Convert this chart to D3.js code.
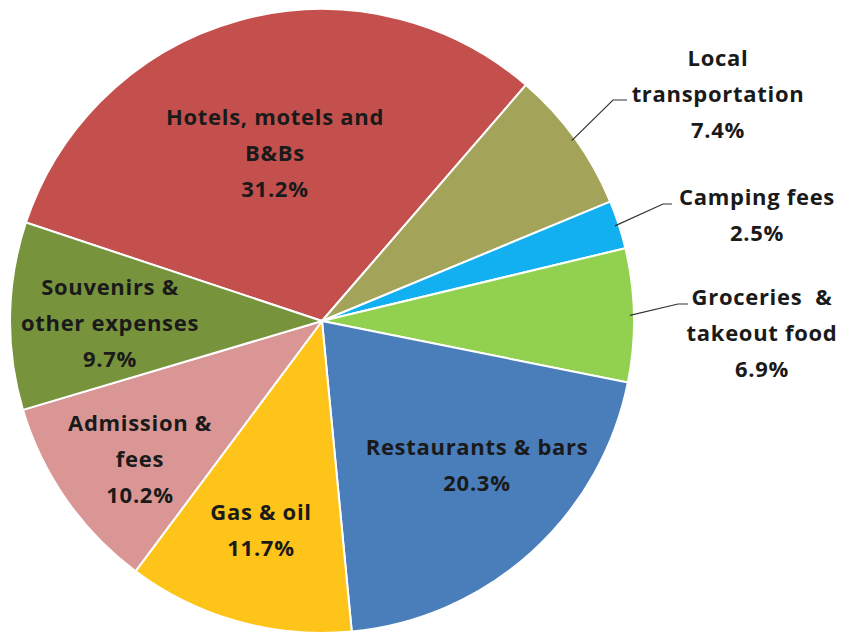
<!DOCTYPE html>
<html>
<head>
<meta charset="utf-8">
<script src="https://cdn.jsdelivr.net/npm/d3@7"></script>
<style>
  html, body { margin: 0; padding: 0; background: #ffffff; }
  svg text { font-family: "Open Sans", Lato, sans-serif; font-weight: bold; fill: #1a1a1a; }
</style>
</head>
<body>
<svg id="chart" width="848" height="635"></svg>
<script>
// Spending shares by category (percent), listed clockwise from the Hotels slice
const categories = [
  "Hotels, motels and B&Bs",
  "Local transportation",
  "Camping fees",
  "Groceries & takeout food",
  "Restaurants & bars",
  "Gas & oil",
  "Admission & fees",
  "Souvenirs & other expenses"
];
const values = [31.2, 7.4, 2.5, 6.9, 20.3, 11.7, 10.2, 9.7];
const colors = ["#C4504E", "#A3A45A", "#12B0F0", "#92D050", "#4A7EBB", "#FFC41A", "#D99694", "#77933C"];
// Label lines as they wrap on the chart
const labelLines = [
  ["Hotels, motels and", "B&Bs", "31.2%"],
  ["Local", "transportation", "7.4%"],
  ["Camping fees", "2.5%"],
  ["Groceries  &", "takeout food", "6.9%"],
  ["Restaurants & bars", "20.3%"],
  ["Gas & oil", "11.7%"],
  ["Admission &", "fees", "10.2%"],
  ["Souvenirs &", "other expenses", "9.7%"]
];
// Label anchor (centre of first line) and leader-line elbow for outside labels
const labelPos = [
  [275, 117], [718, 58], [757, 197], [762, 297],
  [477, 447], [261, 512], [140, 423], [110, 287]
];
const leaders = [null, [613, 100, 627], [663, 204, 672], [678, 304, 688], null, null, null, null];

const svg = d3.select("#chart");
const cx = 322, cy = 321, r = 312;
const startAngle = -71.6 * Math.PI / 180;

const pie = d3.pie().sort(null).value(d => d)
  .startAngle(startAngle).endAngle(startAngle + 2 * Math.PI);
const arcs = pie(values);
const arc = d3.arc().innerRadius(0).outerRadius(r);

const g = svg.append("g").attr("transform", `translate(${cx},${cy})`);
g.selectAll("path.slice").data(arcs).join("path")
  .attr("class", "slice")
  .attr("d", arc)
  .attr("fill", (d, i) => colors[i])
  .attr("stroke", "#ffffff")
  .attr("stroke-width", 2)
  .attr("stroke-linejoin", "round");

// Leader lines from slice edge to outside labels
arcs.forEach((a, i) => {
  const L = leaders[i];
  if (!L) return;
  const mid = (a.startAngle + a.endAngle) / 2;
  const ex = cx + Math.sin(mid) * (r - 4);
  const ey = cy - Math.cos(mid) * (r - 4);
  svg.append("polyline")
    .attr("points", `${ex},${ey} ${L[0]},${L[1]} ${L[2]},${L[1]}`)
    .attr("fill", "none")
    .attr("stroke", "#333333")
    .attr("stroke-width", 1.2);
});

const lineH = 36;
labelLines.forEach((lines, i) => {
  const t = svg.append("text")
    .attr("text-anchor", "middle")
    .attr("font-size", 22)
    .attr("letter-spacing", 0.7);
  lines.forEach((s, k) => {
    t.append("tspan")
      .attr("x", labelPos[i][0])
      .attr("y", labelPos[i][1] + k * lineH)
      .attr("dy", "0.35em")
      .style("white-space", "pre")
      .text(s);
  });
});
</script>
</body>
</html>
